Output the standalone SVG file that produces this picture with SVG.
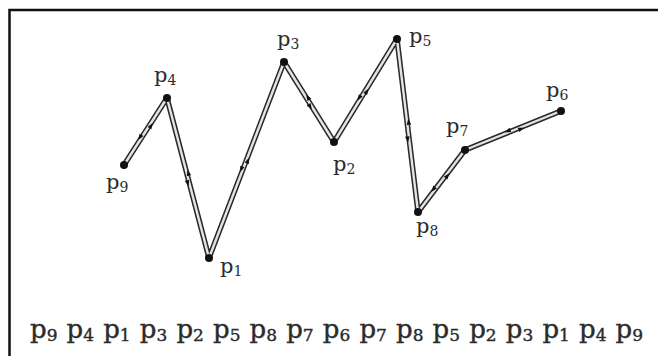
<svg xmlns="http://www.w3.org/2000/svg" width="658" height="356" viewBox="0 0 658 356">
<style>
.frame{stroke:#111;stroke-width:2.5;fill:none}
.rail{fill:none;stroke:#2a2a2a;stroke-width:5.5;stroke-linejoin:round;stroke-linecap:round}
.core{fill:none;stroke:#e4e4e4;stroke-width:2.4;stroke-linejoin:round;stroke-linecap:round}
.ah{fill:#111}
.dot{fill:#111}
.lbl{font-family:"DejaVu Serif","Liberation Serif",serif;font-size:21px;fill:#2b2b2b}
.lbl .s{font-size:14px}
.seq{font-family:"DejaVu Serif","Liberation Serif",serif;font-size:26px;fill:#2b2b2b;stroke:#2b2b2b;stroke-width:0.4}
.seq .s{font-size:17px}
</style>
<defs>
<path id="ah" d="M3,0 L-3,-2.3 L-3,2.3 Z"/>
</defs>
<rect width="658" height="356" fill="#fff"/>
<path class="frame" d="M9.5,356 V10 H658"/>
<g id="connectors">
<polyline class="rail" points="124,165 167,98 209,258 284,62 334,142 397,39 418,212 465,150 561,111"/>
<polyline class="core" points="124,165 167,98 209,258 284,62 334,142 397,39 418,212 465,150 561,111"/>
<g class="ah">
<use href="#ah" transform="translate(151.1,125.6) rotate(-57.3)"/>
<use href="#ah" transform="translate(139.9,137.4) rotate(122.7)"/>
<use href="#ah" transform="translate(187.8,183.2) rotate(75.3)"/>
<use href="#ah" transform="translate(188.2,172.8) rotate(255.3)"/>
<use href="#ah" transform="translate(247.9,160.5) rotate(-69.1)"/>
<use href="#ah" transform="translate(241.3,169.3) rotate(110.9)"/>
<use href="#ah" transform="translate(310.2,106.8) rotate(58)"/>
<use href="#ah" transform="translate(307.8,97.2) rotate(238)"/>
<use href="#ah" transform="translate(366.8,91.3) rotate(-58.5)"/>
<use href="#ah" transform="translate(359.2,97.9) rotate(121.5)"/>
<use href="#ah" transform="translate(407.7,139.5) rotate(83.1)"/>
<use href="#ah" transform="translate(408.6,121.8) rotate(263.1)"/>
<use href="#ah" transform="translate(447.4,175.7) rotate(-52.8)"/>
<use href="#ah" transform="translate(433.3,189.4) rotate(127.2)"/>
<use href="#ah" transform="translate(521.3,128.8) rotate(-22.1)"/>
<use href="#ah" transform="translate(507.6,131.1) rotate(157.9)"/>
</g>
</g>
<g id="p9"><circle class="dot" cx="124" cy="165" r="4"/><text class="lbl" x="106" y="189">p<tspan class="s" dy="3">9</tspan></text></g>
<g id="p4"><circle class="dot" cx="167" cy="98" r="4"/><text class="lbl" x="154" y="82">p<tspan class="s" dy="3">4</tspan></text></g>
<g id="p1"><circle class="dot" cx="209" cy="258" r="4"/><text class="lbl" x="220" y="273">p<tspan class="s" dy="3">1</tspan></text></g>
<g id="p3"><circle class="dot" cx="284" cy="62" r="4"/><text class="lbl" x="277" y="46">p<tspan class="s" dy="3">3</tspan></text></g>
<g id="p2"><circle class="dot" cx="334" cy="142" r="4"/><text class="lbl" x="333" y="171">p<tspan class="s" dy="3">2</tspan></text></g>
<g id="p5"><circle class="dot" cx="397" cy="39" r="4"/><text class="lbl" x="409" y="43">p<tspan class="s" dy="3">5</tspan></text></g>
<g id="p8"><circle class="dot" cx="418" cy="212" r="4"/><text class="lbl" x="416" y="233">p<tspan class="s" dy="3">8</tspan></text></g>
<g id="p7"><circle class="dot" cx="465" cy="150" r="4"/><text class="lbl" x="446" y="133">p<tspan class="s" dy="3">7</tspan></text></g>
<g id="p6"><circle class="dot" cx="561" cy="111" r="4"/><text class="lbl" x="546" y="97">p<tspan class="s" dy="3">6</tspan></text></g>
<text class="seq" y="338"><tspan x="30">p</tspan><tspan class="s" dy="3">9</tspan><tspan x="66.6" dy="-3">p</tspan><tspan class="s" dy="3">4</tspan><tspan x="103.2" dy="-3">p</tspan><tspan class="s" dy="3">1</tspan><tspan x="139.8" dy="-3">p</tspan><tspan class="s" dy="3">3</tspan><tspan x="176.4" dy="-3">p</tspan><tspan class="s" dy="3">2</tspan><tspan x="213" dy="-3">p</tspan><tspan class="s" dy="3">5</tspan><tspan x="249.6" dy="-3">p</tspan><tspan class="s" dy="3">8</tspan><tspan x="286.2" dy="-3">p</tspan><tspan class="s" dy="3">7</tspan><tspan x="322.8" dy="-3">p</tspan><tspan class="s" dy="3">6</tspan><tspan x="359.4" dy="-3">p</tspan><tspan class="s" dy="3">7</tspan><tspan x="396" dy="-3">p</tspan><tspan class="s" dy="3">8</tspan><tspan x="432.6" dy="-3">p</tspan><tspan class="s" dy="3">5</tspan><tspan x="469.2" dy="-3">p</tspan><tspan class="s" dy="3">2</tspan><tspan x="505.8" dy="-3">p</tspan><tspan class="s" dy="3">3</tspan><tspan x="542.4" dy="-3">p</tspan><tspan class="s" dy="3">1</tspan><tspan x="579" dy="-3">p</tspan><tspan class="s" dy="3">4</tspan><tspan x="615.6" dy="-3">p</tspan><tspan class="s" dy="3">9</tspan></text>
</svg>
